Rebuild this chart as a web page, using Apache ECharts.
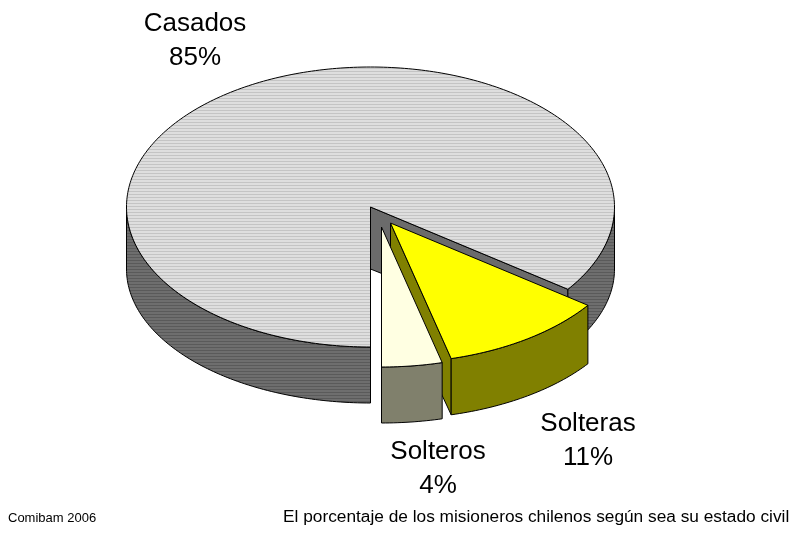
<!DOCTYPE html>
<html>
<head>
<meta charset="utf-8">
<script src="https://cdn.jsdelivr.net/npm/echarts@6/dist/echarts.min.js"></script>
<style>
  html, body { margin: 0; padding: 0; background: #fff; }
  #chart { width: 805px; height: 534px; }
</style>
</head>
<body>
<div id="chart"></div>
<script>
// datos
const categories = ['Casados', 'Solteras', 'Solteros']
const values = [85, 11, 4]
const percentLabels = ['85%', '11%', '4%']

// geometria del pastel 3D (px)
const pie = { cx: 370.5, cy: 207, rx: 244, ry: 140, cyBottom: 269, ryBottom: 134, startAngle: 180 }
const explode = { Solteras: [20, 16], Solteros: [11, 20] }
const labelAt = { Casados: [195, 7], Solteras: [588, 407], Solteros: [438, 435] }
const FONT = '"Liberation Sans", Arial, sans-serif'

const stripes = (base, line) => {
  const c = document.createElement('canvas')
  c.width = 8
  c.height = 3
  const g = c.getContext('2d')
  g.fillStyle = base
  g.fillRect(0, 0, 8, 3)
  g.fillStyle = line
  g.fillRect(0, 2, 8, 1)
  return { image: c, repeat: 'repeat' }
}

const colors = {
  Casados: { top: stripes('#dedede', '#c4c4c4'), wall: stripes('#6e6e6e', '#5a5a5a'), face: '#6b6b6b' },
  Solteras: { top: '#ffff00', wall: '#808000', face: '#808000' },
  Solteros: { top: '#ffffe2', wall: '#80806c', face: '#80806c' }
}

const total = values.reduce((a, b) => a + b, 0)
const rad = d => d * Math.PI / 180
const topPt = (a, o) => [pie.cx + pie.rx * Math.sin(rad(a)) + o[0], pie.cy - pie.ry * Math.cos(rad(a)) + o[1]]
const botPt = (a, o) => [pie.cx + pie.rx * Math.sin(rad(a)) + o[0], pie.cyBottom - pie.ryBottom * Math.cos(rad(a)) + o[1]]
const arc = (fn, a0, a1, o) => {
  const n = Math.max(2, Math.ceil(Math.abs(a1 - a0)))
  const pts = []
  for (let i = 0; i <= n; i++) pts.push(fn(a0 + (a1 - a0) * i / n, o))
  return pts
}

// angulos de cada porcion (en sentido horario desde las 12)
const slices = []
let acc = pie.startAngle
values.forEach((v, i) => {
  const a0 = acc
  const a1 = acc + v / total * 360
  acc = a1
  slices.push({ a0, a1, mid: (a0 + a1) / 2 })
})
// las porciones mas al frente se dibujan despues
const order = slices.map((s, i) => i).sort((a, b) => -Math.cos(rad(slices[a].mid)) + Math.cos(rad(slices[b].mid)))

const edge = { stroke: '#000', lineWidth: 1 }

const renderItem = (params, api) => {
  const i = params.dataIndex
  const name = categories[i]
  const { a0, a1 } = slices[i]
  const o = explode[name] || [0, 0]
  const col = colors[name]
  const z = order.indexOf(i) * 10
  const apexT = [pie.cx + o[0], pie.cy + o[1]]
  const apexB = [pie.cx + o[0], pie.cyBottom + o[1]]
  const children = []

  // caras radiales visibles
  const faces = [[a0, a0 - 90], [a1, a1 + 90]]
  faces.forEach(([a, n]) => {
    if (-Math.cos(rad(n)) > 0.01) {
      children.push({
        type: 'polygon',
        z2: z,
        shape: { points: [apexT, topPt(a, o), botPt(a, o), apexB] },
        style: Object.assign({ fill: col.face }, edge)
      })
    }
  })

  // pared exterior (solo la mitad delantera)
  ;[[90, 270], [450, 630]].forEach(([f0, f1]) => {
    const s = Math.max(a0, f0)
    const e = Math.min(a1, f1)
    if (e > s) {
      const pts = arc(topPt, s, e, o).concat(arc(botPt, e, s, o))
      children.push({
        type: 'polygon',
        z2: z + 1,
        shape: { points: pts },
        style: Object.assign({ fill: col.wall }, edge)
      })
    }
  })

  // cara superior
  children.push({
    type: 'polygon',
    z2: z + 2,
    shape: { points: [apexT].concat(arc(topPt, a0, a1, o)) },
    style: Object.assign({ fill: col.top }, edge)
  })

  // etiqueta
  const lp = labelAt[name]
  children.push({
    type: 'text',
    z2: 100,
    style: {
      text: name + '\n' + percentLabels[i],
      x: lp[0],
      y: lp[1],
      fill: '#000',
      font: '26px ' + FONT,
      align: 'center',
      verticalAlign: 'top',
      textAlign: 'center',
      textVerticalAlign: 'top',
      lineHeight: 34
    }
  })

  return { type: 'group', children }
}

const chart = echarts.init(document.getElementById('chart'), null, { renderer: 'canvas' })
chart.setOption({
  animation: false,
  backgroundColor: '#ffffff',
  title: [
    {
      text: 'Comibam 2006',
      left: 8,
      top: 512,
      padding: 0,
      textStyle: { fontSize: 13, fontWeight: 'normal', color: '#000', fontFamily: FONT }
    },
    {
      text: 'El porcentaje de los misioneros chilenos según sea su estado civil',
      left: 283,
      top: 509,
      padding: 0,
      textStyle: { fontSize: 17.3, fontWeight: 'normal', color: '#000', fontFamily: FONT }
    }
  ],
  series: [
    {
      type: 'custom',
      coordinateSystem: 'none',
      silent: true,
      renderItem,
      data: values.map((v, i) => ({ name: categories[i], value: v }))
    }
  ]
})

window.addEventListener('resize', () => chart.resize())
</script>
</body>
</html>
